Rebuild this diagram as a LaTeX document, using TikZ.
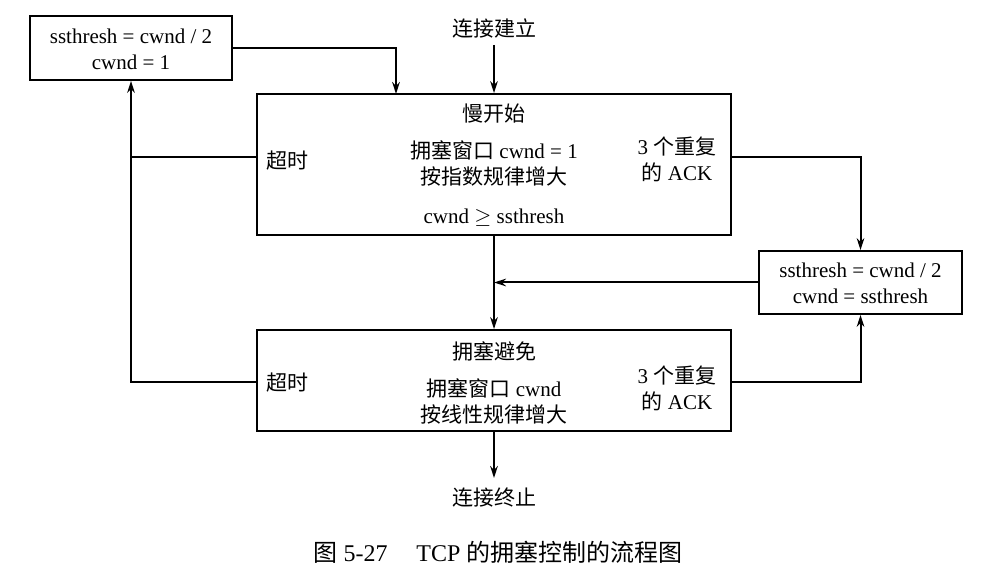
\documentclass[tikz,border=0pt]{standalone}
\usepackage{fontspec}
\setmainfont{Liberation Serif}
\newfontfamily\cjk{Noto Sans CJK SC}
\usetikzlibrary{arrows.meta}
\newcommand{\zh}[1]{{\cjk #1}}
\begin{document}
\begin{tikzpicture}[x=0.5pt,y=-0.5pt,
  txt/.style={inner sep=0pt,font=\fontsize{10.5}{13}\selectfont,align=center},
  arr/.style={line width=1pt,-{Stealth[length=6pt,width=3.8pt]}},
  ln/.style={line width=1pt}]
\useasboundingbox (0,0) rectangle (999,582);
% boxes
\node[draw,line width=0.9pt,minimum width=101pt,minimum height=32pt,inner sep=0pt] (tl) at (131,48) {};
\node[draw,line width=0.9pt,minimum width=237pt,minimum height=70.5pt,inner sep=0pt] (ss) at (494,164.5) {};
\node[draw,line width=0.9pt,minimum width=101.5pt,minimum height=31.5pt,inner sep=0pt] (rb) at (860.5,282.5) {};
\node[draw,line width=0.9pt,minimum width=237pt,minimum height=50.5pt,inner sep=0pt] (ca) at (494,380.5) {};
% box texts
\node[txt] (tlt) at (131,49) {ssthresh = cwnd / 2\\cwnd = 1};
\node[txt] (rbt) at (860.5,283) {ssthresh = cwnd / 2\\cwnd = ssthresh};
\node[txt] (ss1) at (494,114) {\zh{慢开始}};
\node[txt] (ss2) at (494,163) {\zh{拥塞窗口} cwnd = 1\\\zh{按指数规律增大}};
\node[txt] (ss3) at (494,218) {cwnd $\geq$ ssthresh};
\node[txt] (ss4) at (287,161) {\zh{超时}};
\node[txt] (ss5) at (677,159) {3 \zh{个重复}\\\zh{的} ACK};
\node[txt] (ca1) at (494,351) {\zh{拥塞避免}};
\node[txt] (ca2) at (494,401) {\zh{拥塞窗口} cwnd\\\zh{按线性规律增大}};
\node[txt] (ca4) at (287,383) {\zh{超时}};
\node[txt] (ca5) at (677,388) {3 \zh{个重复}\\\zh{的} ACK};
% outside texts
\node[txt] (start) at (494,28) {\zh{连接建立}};
\node[txt] (stop) at (494,498) {\zh{连接终止}};
\node[inner sep=0pt,font=\fontsize{12}{14}\selectfont] (cap) at (498,552) {\zh{图} 5-27\hspace{1.2em}TCP \zh{的拥塞控制的流程图}};
% coordinates
\coordinate (k1) at (396,94);
\coordinate (a1) at (730,157);
\coordinate (a2) at (257,157);
\coordinate (b1) at (731,382);
\coordinate (b2) at (257,382);
\coordinate (s0) at (494,45);
\coordinate (e0) at (494,478);
% connectors
\draw[arr] (s0) -- (ss.north);
\draw[arr] (tl.east) -| (k1);
\draw[arr] (a1) -| (rb.north);
\draw[arr] (rb.west) -- (rb.west -| ss.south);
\draw[arr] (ss.south) -- (ca.north);
\draw[arr] (b1) -| (rb.south);
\draw[arr] (b2) -| (tl.south);
\draw[ln] (a2) -- (a2 -| tl.south);
\draw[arr] (ca.south) -- (e0);
\end{tikzpicture}
\end{document}
